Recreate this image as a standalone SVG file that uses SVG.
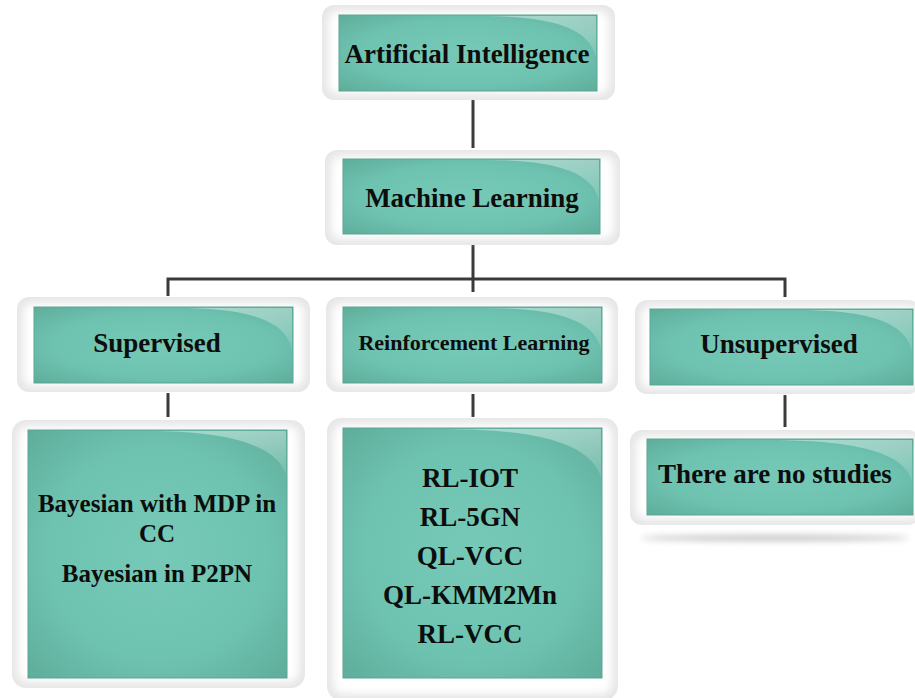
<svg xmlns="http://www.w3.org/2000/svg" width="915" height="698" viewBox="0 0 915 698">
<defs>
<radialGradient id="teal" cx="0.5" cy="0.5" r="0.7">
<stop offset="0" stop-color="#76c9b7"/>
<stop offset="0.6" stop-color="#6ec3b0"/>
<stop offset="1" stop-color="#5fad9b"/>
</radialGradient>
<linearGradient id="gloss" x1="0" y1="0" x2="0" y2="1">
<stop offset="0" stop-color="#ffffff" stop-opacity="0.4"/>
<stop offset="1" stop-color="#ffffff" stop-opacity="0.1"/>
</linearGradient>
<filter id="soft" x="-10%" y="-10%" width="120%" height="120%">
<feGaussianBlur stdDeviation="4"/>
</filter>
<filter id="shadow" x="-20%" y="-200%" width="140%" height="500%">
<feGaussianBlur stdDeviation="3"/>
</filter>
</defs>
<style>
.frame{fill:#e6e6e6}
.frameIn{fill:#ffffff;filter:url(#soft)}
.inner{fill:url(#teal);stroke:#5aa593;stroke-width:1}
.gloss{fill:url(#gloss)}
.lbl{font-family:"Liberation Serif","Times New Roman",serif;font-weight:bold;fill:#0d0d0d;text-anchor:middle}
.conn{stroke:#3a3a3a;stroke-width:3;fill:none}
</style>
<rect width="915" height="698" fill="#ffffff"/>

<g id="connectors">
<line class="conn" x1="473" y1="100" x2="473" y2="148"/>
<line class="conn" x1="473" y1="245" x2="473" y2="292"/>
<polyline class="conn" points="168,296 168,279 785,279 785,297"/>
<line class="conn" x1="168" y1="393" x2="168" y2="417"/>
<line class="conn" x1="473" y1="394" x2="473" y2="417"/>
<line class="conn" x1="785" y1="395" x2="785" y2="427"/>
</g>

<g id="node-ai">
<rect class="frame" x="322" y="5" width="293" height="95" rx="12"/>
<rect class="frameIn" x="328" y="11" width="281" height="83" rx="9"/>
<rect class="inner" x="339" y="15" width="258" height="76"/>
<path class="gloss" d="M481,16 C540,16 590,24 596,58 L596,16 Z"/>
<text class="lbl" x="467" y="63" font-size="27">Artificial Intelligence</text>
</g>

<g id="node-ml">
<rect class="frame" x="325" y="150" width="295" height="95" rx="12"/>
<rect class="frameIn" x="331" y="156" width="283" height="83" rx="9"/>
<rect class="inner" x="343" y="159" width="257" height="75"/>
<path class="gloss" d="M485,160 C544,160 593,168 599,201 L599,160 Z"/>
<text class="lbl" x="472" y="207" font-size="27">Machine Learning</text>
</g>

<g id="node-supervised">
<rect class="frame" x="17" y="297" width="293" height="95" rx="12"/>
<rect class="frameIn" x="23" y="303" width="281" height="83" rx="9"/>
<rect class="inner" x="34" y="307" width="259" height="76"/>
<path class="gloss" d="M176,308 C236,308 286,316 292,350 L292,308 Z"/>
<text class="lbl" x="157" y="352" font-size="27">Supervised</text>
</g>

<g id="node-rl">
<rect class="frame" x="326" y="297" width="292" height="95" rx="12"/>
<rect class="frameIn" x="332" y="303" width="280" height="83" rx="9"/>
<rect class="inner" x="343" y="307" width="259" height="76"/>
<path class="gloss" d="M485,308 C545,308 595,316 601,350 L601,308 Z"/>
<text class="lbl" x="474" y="350" font-size="22">Reinforcement Learning</text>
</g>

<g id="node-unsupervised">
<rect class="frame" x="635" y="300" width="285" height="94" rx="12"/>
<rect class="frameIn" x="641" y="306" width="279" height="82" rx="9"/>
<rect class="inner" x="650" y="309" width="263" height="76"/>
<path class="gloss" d="M795,310 C857,310 906,318 912,352 L912,310 Z"/>
<text class="lbl" x="779" y="353" font-size="27">Unsupervised</text>
</g>

<g id="node-supervised-list">
<rect class="frame" x="12" y="420" width="293" height="268" rx="14"/>
<rect class="frameIn" x="18" y="426" width="281" height="256" rx="10"/>
<rect class="inner" x="28" y="430" width="259" height="248"/>
<path class="gloss" d="M150,431 C210,431 276,440 286,475 L286,431 Z"/>
<text class="lbl" x="157" y="512" font-size="25">Bayesian with MDP in</text>
<text class="lbl" x="157" y="542" font-size="25">CC</text>
<text class="lbl" x="157" y="582" font-size="25">Bayesian in P2PN</text>
</g>

<g id="node-rl-list">
<rect class="frame" x="327" y="418" width="291" height="282" rx="14"/>
<rect class="frameIn" x="333" y="424" width="279" height="270" rx="10"/>
<rect class="inner" x="343" y="428" width="259" height="250"/>
<path class="gloss" d="M438,429 C520,429 590,438 601,478 L601,429 Z"/>
<text class="lbl" x="470" y="487" font-size="27">RL-IOT</text>
<text class="lbl" x="470" y="526" font-size="27">RL-5GN</text>
<text class="lbl" x="470" y="565" font-size="27">QL-VCC</text>
<text class="lbl" x="470" y="604" font-size="27">QL-KMM2Mn</text>
<text class="lbl" x="470" y="643" font-size="27">RL-VCC</text>
</g>

<g id="node-no-studies">
<ellipse cx="775" cy="538" rx="135" ry="3" fill="#8a8a8a" opacity="0.5" filter="url(#shadow)"/>
<rect class="frame" x="630" y="430" width="290" height="95" rx="12"/>
<rect class="frameIn" x="636" y="436" width="284" height="83" rx="9"/>
<rect class="inner" x="647" y="439" width="266" height="76"/>
<path class="gloss" d="M764,440 C840,440 905,448 912,482 L912,440 Z"/>
<text class="lbl" x="775" y="483" font-size="27">There are no studies</text>
</g>
</svg>
